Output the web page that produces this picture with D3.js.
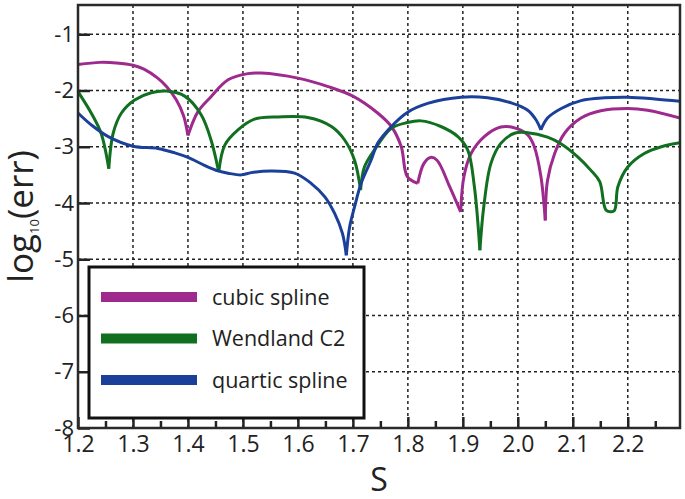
<!DOCTYPE html>
<html>
<head>
<meta charset="utf-8">
<script src="https://cdn.jsdelivr.net/npm/d3@7"></script>
<style>
  body { margin: 0; background: #fff; }
  svg text { font-family: "Open Sans", "DejaVu Sans", sans-serif; fill: #222; }
</style>
</head>
<body>
<div id="chart"></div>
<script>
// values: [S, log10(err)]
var cubic = [
  [1.200,-1.54],[1.240,-1.50],[1.270,-1.51],[1.300,-1.55],[1.320,-1.62],[1.345,-1.78],
  [1.361,-1.93],[1.379,-2.17],[1.392,-2.45],[1.400,-2.80],[1.418,-2.38],[1.442,-2.11],
  [1.473,-1.81],[1.509,-1.70],[1.533,-1.69],[1.600,-1.78],[1.655,-1.93],[1.700,-2.10],
  [1.745,-2.40],[1.770,-2.64],[1.788,-3.00],[1.799,-3.53],[1.818,-3.65],[1.829,-3.30],
  [1.841,-3.19],[1.853,-3.24],[1.876,-3.71],[1.896,-4.16],[1.902,-3.53],[1.915,-3.12],
  [1.939,-2.82],[1.969,-2.65],[1.988,-2.65],[2.018,-2.79],[2.030,-3.00],[2.042,-3.53],
  [2.050,-4.31],[2.054,-3.60],[2.067,-3.12],[2.085,-2.76],[2.115,-2.49],[2.151,-2.36],
  [2.200,-2.32],[2.236,-2.35],[2.295,-2.49]
];
var wendland = [
  [1.200,-2.02],[1.224,-2.40],[1.242,-2.76],[1.256,-3.39],[1.264,-2.76],[1.279,-2.40],
  [1.303,-2.17],[1.333,-2.04],[1.361,-2.01],[1.394,-2.10],[1.424,-2.43],[1.442,-2.88],
  [1.456,-3.45],[1.467,-2.97],[1.491,-2.70],[1.521,-2.51],[1.564,-2.47],[1.618,-2.48],
  [1.661,-2.64],[1.685,-2.88],[1.703,-3.24],[1.714,-3.77],[1.721,-3.36],[1.739,-3.06],
  [1.770,-2.67],[1.799,-2.57],[1.824,-2.54],[1.860,-2.64],[1.891,-2.82],[1.909,-3.06],
  [1.921,-3.71],[1.931,-4.84],[1.938,-4.07],[1.951,-3.30],[1.969,-2.94],[1.994,-2.76],
  [2.018,-2.75],[2.054,-2.83],[2.079,-2.95],[2.109,-3.18],[2.133,-3.42],[2.149,-3.62],
  [2.161,-4.13],[2.175,-4.14],[2.182,-3.71],[2.200,-3.36],[2.230,-3.12],[2.261,-3.00],
  [2.295,-2.93]
];
var quartic = [
  [1.200,-2.40],[1.224,-2.61],[1.255,-2.82],[1.300,-2.99],[1.345,-3.03],[1.376,-3.11],
  [1.400,-3.19],[1.430,-3.33],[1.455,-3.43],[1.473,-3.47],[1.497,-3.50],[1.515,-3.46],
  [1.551,-3.43],[1.594,-3.47],[1.624,-3.65],[1.649,-3.89],[1.667,-4.19],[1.681,-4.54],
  [1.688,-4.93],[1.694,-4.43],[1.703,-4.07],[1.715,-3.65],[1.733,-3.24],[1.745,-2.94],
  [1.770,-2.64],[1.799,-2.39],[1.836,-2.23],[1.897,-2.12],[1.945,-2.13],[1.988,-2.22],
  [2.018,-2.35],[2.033,-2.52],[2.042,-2.70],[2.054,-2.49],[2.079,-2.32],[2.115,-2.18],
  [2.158,-2.13],[2.200,-2.12],[2.249,-2.15],[2.295,-2.19]
];
var seriesNames = ["cubic spline", "Wendland C2", "quartic spline"];
var seriesColors = ["#9e2a8d", "#10701f", "#1b409a"];
var xMajor = [1.2,1.3,1.4,1.5,1.6,1.7,1.8,1.9,2.0,2.1,2.2];
var xMinor = [1.25,1.35,1.45,1.55,1.65,1.75,1.85,1.95,2.05,2.15,2.25];
var yTicks = [-8,-7,-6,-5,-4,-3,-2,-1];

var W = 685, H = 499;
var pl = 78, pt = 5, pr = 680, pb = 428;

var svg = d3.select("#chart").append("svg")
    .attr("width", W)
    .attr("height", H);

var x = d3.scaleLinear().domain([1.2, 2.295]).range([pl, pr]);
var y = d3.scaleLinear().domain([-8, -0.48]).range([pb, pt]);

svg.append("defs").append("clipPath").attr("id", "plot")
  .append("rect")
    .attr("x", pl).attr("y", pt)
    .attr("width", pr - pl).attr("height", pb - pt);

// dotted grid
var grid = svg.append("g").attr("class", "grid")
    .attr("stroke", "#222").attr("stroke-width", 1.5).attr("stroke-dasharray", "3,3");
grid.selectAll(".gx")
    .data(xMajor.slice(1))
  .enter().append("line")
    .attr("x1", function(d){ return x(d); })
    .attr("x2", function(d){ return x(d); })
    .attr("y1", pt).attr("y2", pb);
grid.selectAll(".gy")
    .data(yTicks.slice(1))
  .enter().append("line")
    .attr("y1", function(d){ return y(d); })
    .attr("y2", function(d){ return y(d); })
    .attr("x1", pl).attr("x2", pr);

// split each curve at its sharp minima so the cusps stay pointed
function pieces(pts) {
  var out = [], cur = [pts[0]];
  for (var i = 1; i < pts.length; i++) {
    cur.push(pts[i]);
    if (i < pts.length - 1) {
      var s1 = (pts[i][1] - pts[i-1][1]) / (pts[i][0] - pts[i-1][0]);
      var s2 = (pts[i+1][1] - pts[i][1]) / (pts[i+1][0] - pts[i][0]);
      if (s1 < -5 && s2 > 5) { out.push(cur); cur = [pts[i]]; }
    }
  }
  out.push(cur);
  return out;
}

var line = d3.line()
    .x(function(d){ return x(d[0]); })
    .y(function(d){ return y(d[1]); })
    .curve(d3.curveCatmullRom.alpha(0.5));

var curves = svg.append("g").attr("clip-path", "url(#plot)");
[cubic, wendland, quartic].forEach(function(s, i){
  curves.selectAll(".s" + i)
      .data(pieces(s))
    .enter().append("path")
      .attr("d", line)
      .attr("fill", "none")
      .attr("stroke", seriesColors[i])
      .attr("stroke-width", 3)
      .attr("stroke-linejoin", "round");
});

// axes with inward ticks
var xAxis = svg.append("g")
    .attr("transform", "translate(0," + pb + ")")
    .call(d3.axisBottom(x).tickValues(xMajor).tickSize(-11).tickPadding(8)
      .tickFormat(d3.format(".1f")));
xAxis.select(".domain").remove();
xAxis.selectAll("line").attr("stroke", "#222").attr("stroke-width", 2.5);
xAxis.selectAll("text").style("font-size", "23px").attr("fill", "#222");

var xMinorAxis = svg.append("g")
    .attr("transform", "translate(0," + pb + ")")
    .call(d3.axisBottom(x).tickValues(xMinor).tickSize(-7).tickFormat(""));
xMinorAxis.select(".domain").remove();
xMinorAxis.selectAll("line").attr("stroke", "#222").attr("stroke-width", 2.5);

var yAxis = svg.append("g")
    .attr("transform", "translate(" + pl + ",0)")
    .call(d3.axisLeft(y).tickValues(yTicks).tickSize(-12).tickPadding(4)
      .tickFormat(function(d){ return String(d); }));
yAxis.select(".domain").remove();
yAxis.selectAll("line").attr("stroke", "#222").attr("stroke-width", 2.5);
yAxis.selectAll("text").style("font-size", "22px").attr("fill", "#222");

// frame
svg.append("rect")
    .attr("x", pl).attr("y", pt)
    .attr("width", pr - pl).attr("height", pb - pt)
    .attr("fill", "none")
    .attr("stroke", "#2a2a2a")
    .attr("stroke-width", 2.5);

// legend
var lg = svg.append("g");
lg.append("rect")
    .attr("x", 89).attr("y", 267)
    .attr("width", 275).attr("height", 151)
    .attr("fill", "#fff")
    .attr("stroke", "#111")
    .attr("stroke-width", 3);
var items = lg.selectAll(".item")
    .data(seriesNames)
  .enter().append("g")
    .attr("transform", function(d, i){ return "translate(0," + (297 + i * 41.5) + ")"; });
items.append("line")
    .attr("x1", 101).attr("x2", 197)
    .attr("stroke", function(d, i){ return seriesColors[i]; })
    .attr("stroke-width", 10);
items.append("text")
    .attr("x", 212).attr("dy", "0.35em")
    .style("font-size", "21.5px")
    .text(function(d){ return d; });

// axis titles
svg.append("text")
    .attr("x", (pl + pr) / 2).attr("y", 491)
    .attr("text-anchor", "middle")
    .style("font-size", "32px")
    .text("S");

var yl = svg.append("text")
    .attr("transform", "translate(33," + ((pt + pb) / 2) + ") rotate(-90)")
    .attr("text-anchor", "middle")
    .style("font-size", "35px");
yl.append("tspan").text("log");
yl.append("tspan").attr("dy", 6).style("font-size", "13px").text("10");
yl.append("tspan").attr("dy", -6).text("(err)");
</script>
</body>
</html>
